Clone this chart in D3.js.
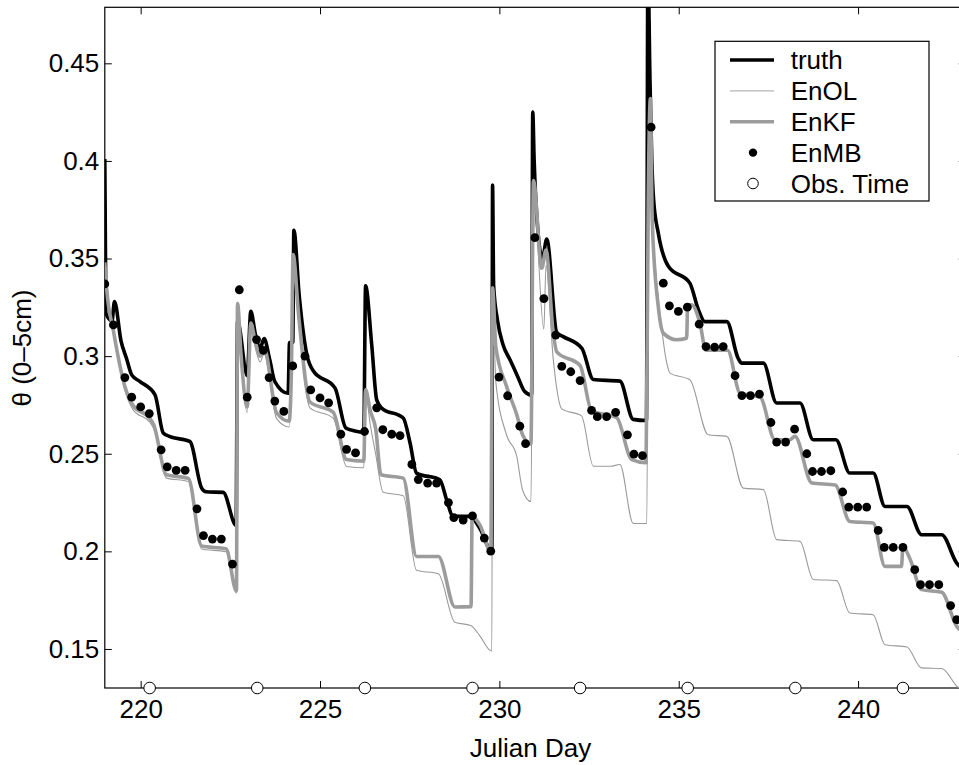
<!DOCTYPE html>
<html lang="en">
<head>
  <meta charset="UTF-8">
  <script type="text/javascript" src="https://cdn.jsdelivr.net/npm/d3@7/dist/d3.min.js"></script>
  <style>
    body { margin: 0; background: #fff; }
    svg { display: block; font-family: "Liberation Sans", Arial, Helvetica, sans-serif; }
    .axis text { font-size: 26px; fill: #000; }
    .axis line { stroke: #000; stroke-width: 1; }
    .axis path { display: none; }
    .lbl { font-size: 26px; fill: #000; }
  </style>
</head>
<body>
<svg></svg>
<script type="text/javascript">
// [Julian day, theta]
var truth = [
  [219.00,0.401],[219.03,0.322],[219.20,0.318],[219.27,0.328],[219.45,0.308],[219.61,0.2985],
  [219.75,0.2904],[219.98,0.287],[220.40,0.2802],[220.63,0.2606],[220.80,0.2589],[221.37,0.2563],
  [221.70,0.2324],[221.82,0.2305],[222.30,0.2302],[222.66,0.2133],[222.70,0.318],[222.97,0.290],
  [223.07,0.323],[223.20,0.311],[223.33,0.304],[223.44,0.309],[223.60,0.298],[223.74,0.287],
  [224.11,0.281],[224.15,0.307],[224.24,0.307],[224.27,0.3645],[224.42,0.331],[224.63,0.301],
  [224.81,0.2925],[225.42,0.2836],[225.72,0.2632],[225.97,0.2617],[226.22,0.261],[226.27,0.336],
  [226.44,0.306],[226.58,0.2776],[226.72,0.2734],[227.32,0.2683],[227.51,0.2555],[227.69,0.2401],
  [228.34,0.2367],[228.53,0.2264],[228.71,0.2179],[229.18,0.2179],[229.46,0.2116],[229.79,0.2000],
  [229.81,0.3876],[229.84,0.336],[229.95,0.318],[230.10,0.306],[230.30,0.298],[230.50,0.290],
  [230.70,0.282],[230.90,0.280],[230.93,0.425],[230.97,0.400],[231.05,0.370],[231.20,0.350],
  [231.32,0.360],[231.60,0.312],[231.78,0.310],[232.30,0.304],[232.62,0.288],[233.36,0.2872],
  [233.73,0.2676],[234.10,0.267],[234.14,0.500],[234.20,0.440],[234.25,0.400],[234.30,0.380],
  [234.43,0.363],[234.71,0.346],[235.31,0.3374],[235.55,0.3237],[235.73,0.3177],[236.34,0.3177],
  [236.66,0.2987],[236.76,0.2964],[237.36,0.2964],[237.73,0.276],[238.38,0.276],[238.75,0.2572],
  [239.38,0.2572],[239.77,0.2401],[240.42,0.2401],[240.75,0.223],[241.36,0.223],[241.77,0.2085],
  [242.33,0.2085],[242.75,0.194],[243.00,0.190]
];

var enol = [
  [219.00,0.346],[219.05,0.333],[219.24,0.311],[219.56,0.2825],[219.79,0.2725],[220.26,0.266],
  [220.36,0.263],[220.72,0.2375],[221.33,0.2358],[221.70,0.2012],[222.38,0.1998],[222.67,0.1785],
  [222.70,0.325],[222.80,0.297],[222.97,0.271],[223.07,0.314],[223.20,0.304],[223.33,0.297],
  [223.44,0.301],[223.79,0.268],[224.14,0.2637],[224.20,0.287],[224.25,0.350],[224.40,0.319],
  [224.72,0.2735],[225.37,0.2682],[225.74,0.2435],[226.22,0.2428],[226.27,0.281],[226.40,0.265],
  [226.55,0.250],[226.76,0.2303],[227.32,0.2285],[227.69,0.1903],[228.30,0.1885],[228.76,0.1637],
  [229.20,0.162],[229.46,0.1566],[229.73,0.1495],[229.79,0.149],[229.81,0.335],[229.90,0.287],
  [230.20,0.2596],[230.48,0.249],[230.65,0.2312],[230.88,0.2255],[230.95,0.385],[231.24,0.3138],
  [231.30,0.3467],[231.50,0.2987],[231.74,0.273],[232.29,0.2694],[232.62,0.2436],[233.10,0.2436],
  [233.36,0.2445],[233.73,0.2143],[234.11,0.2143],[234.16,0.400],[234.25,0.370],[234.35,0.345],
  [234.50,0.318],[234.65,0.298],[234.76,0.2913],[235.31,0.2879],[235.82,0.2597],[236.34,0.2589],
  [236.80,0.2324],[237.36,0.2316],[237.73,0.206],[238.38,0.2051],[238.75,0.1856],[239.40,0.185],
  [239.77,0.1684],[240.42,0.1675],[240.75,0.1522],[241.36,0.151],[241.77,0.1403],[242.33,0.140],
  [242.75,0.131],[243.00,0.127]
];

var enkf = [
  [219.00,0.348],[219.05,0.335],[219.24,0.313],[219.56,0.2845],[219.79,0.2747],[220.26,0.268],
  [220.36,0.265],[220.72,0.2392],[221.33,0.2374],[221.70,0.2027],[222.38,0.2013],[222.67,0.1797],
  [222.70,0.327],[222.80,0.300],[222.97,0.274],[223.07,0.317],[223.20,0.307],[223.33,0.300],
  [223.44,0.304],[223.79,0.271],[224.14,0.2667],[224.20,0.290],[224.25,0.352],[224.40,0.3218],
  [224.72,0.2765],[225.37,0.2712],[225.74,0.247],[226.22,0.2462],[226.27,0.2827],[226.40,0.272],
  [226.55,0.263],[226.70,0.2392],[227.32,0.2375],[227.69,0.1974],[228.30,0.1974],[228.76,0.1715],
  [229.21,0.1717],[229.24,0.2179],[229.46,0.2134],[229.76,0.2001],[229.81,0.335],[229.90,0.305],
  [230.20,0.2845],[230.48,0.2703],[230.65,0.2596],[230.88,0.255],[230.95,0.390],[231.18,0.345],
  [231.30,0.3544],[231.50,0.312],[231.60,0.3022],[232.25,0.2952],[232.57,0.272],[233.27,0.2685],
  [233.69,0.247],[234.09,0.2454],[234.15,0.380],[234.21,0.432],[234.26,0.370],[234.43,0.3253],
  [234.57,0.3118],[234.94,0.3084],[235.22,0.3092],[235.25,0.3263],[235.36,0.3263],[235.59,0.3169],
  [235.76,0.303],[236.36,0.303],[236.71,0.281],[237.27,0.279],[237.68,0.2572],[238.10,0.2572],
  [238.24,0.2589],[238.71,0.235],[239.36,0.234],[239.77,0.2153],[240.42,0.2145],[240.75,0.1923],
  [241.21,0.1923],[241.25,0.2025],[241.45,0.196],[241.77,0.1804],[242.33,0.179],[242.75,0.1616],
  [243.00,0.158]
];

var enmb = [
  [219.00,0.337],[219.24,0.316],[219.56,0.289],[219.75,0.279],[220.00,0.274],[220.24,0.2706],
  [220.57,0.252],[220.74,0.2433],[220.99,0.2415],[221.24,0.2415],[221.57,0.2218],[221.75,0.2081],
  [222.00,0.2063],[222.25,0.2063],[222.56,0.1935],[222.75,0.334],[222.97,0.279],[223.23,0.3085],
  [223.42,0.303],[223.58,0.289],[223.74,0.277],[223.99,0.2717],[224.24,0.2950],[224.58,0.300],
  [224.74,0.2827],[225.00,0.2786],[225.24,0.2761],[225.58,0.260],[225.74,0.2522],[225.99,0.2504],
  [226.24,0.2614],[226.58,0.2735],[226.75,0.2623],[227.00,0.2600],[227.23,0.2593],[227.56,0.2445],
  [227.74,0.2368],[228.00,0.2350],[228.25,0.2350],[228.58,0.2250],[228.73,0.2173],[228.99,0.2160],
  [229.25,0.2182],[229.58,0.2068],[229.76,0.2001],[229.99,0.2893],[230.23,0.2797],[230.57,0.2641],
  [230.73,0.2552],[230.99,0.3607],[231.24,0.3295],[231.57,0.3108],[231.74,0.2948],[231.99,0.292],
  [232.25,0.2875],[232.57,0.2722],[232.73,0.269],[232.99,0.269],[233.24,0.2712],[233.57,0.2597],
  [233.75,0.2498],[233.99,0.249],[234.23,0.4173],[234.57,0.3374],[234.74,0.3258],[234.99,0.3229],
  [235.24,0.3251],[235.57,0.3164],[235.76,0.3049],[236.00,0.3046],[236.24,0.3049],[236.57,0.290],
  [236.76,0.2798],[237.00,0.2798],[237.25,0.2805],[237.57,0.266],[237.73,0.256],[237.98,0.256],
  [238.23,0.2626],[238.57,0.250],[238.73,0.2409],[238.98,0.2409],[239.24,0.2413],[239.57,0.2304],
  [239.74,0.2227],[239.99,0.2227],[240.24,0.2227],[240.56,0.2107],[240.73,0.202],[240.98,0.202],
  [241.25,0.202],[241.58,0.1906],[241.74,0.1829],[241.99,0.1829],[242.25,0.1829],[242.58,0.1722],
  [242.75,0.165]
];

var obsTimes = [220.25, 223.25, 226.25, 229.25, 232.25, 235.25, 238.25, 241.25];

var xTicks = [220, 225, 230, 235, 240];
var yTicks = [0.15, 0.2, 0.25, 0.3, 0.35, 0.4, 0.45];
var legendNames = ["truth", "EnOL", "EnKF", "EnMB", "Obs. Time"];

function draw(){
    var W = 959, H = 765;
    var svg = d3.select("svg").attr("width", W).attr("height", H);

    var xScale = d3.scaleLinear().domain([219, 243]).range([104.8, 965.7]);
    var yScale = d3.scaleLinear().domain([0.13, 0.4787]).range([688, 7.3]);

    var x0 = xScale.range()[0], x1 = xScale.range()[1];
    var yb = yScale.range()[0], yt = yScale.range()[1];

    svg.append("defs").append("clipPath").attr("id", "plotclip")
      .append("rect").attr("x", x0).attr("y", yt).attr("width", x1 - x0).attr("height", yb - yt);

    // axes, ticks inward on all four sides
    svg.append("g").attr("class", "axis")
      .attr("transform", "translate(0," + yb + ")")
      .call(d3.axisBottom(xScale).tickValues(xTicks).tickSize(-7).tickPadding(12).tickFormat(d3.format("d")));
    svg.append("g").attr("class", "axis")
      .attr("transform", "translate(0," + yt + ")")
      .call(d3.axisTop(xScale).tickValues(xTicks).tickSize(-7).tickFormat(""));
    svg.append("g").attr("class", "axis")
      .attr("transform", "translate(" + x0 + ",0)")
      .call(d3.axisLeft(yScale).tickValues(yTicks).tickSize(-7).tickPadding(5.5)
        .tickFormat(function(d){ return String(+d.toFixed(2)); }));
    svg.append("g").attr("class", "axis")
      .attr("transform", "translate(" + x1 + ",0)")
      .call(d3.axisRight(yScale).tickValues(yTicks).tickSize(-7).tickFormat(""));

    svg.append("rect").attr("x", x0).attr("y", yt).attr("width", x1 - x0).attr("height", yb - yt)
      .attr("fill", "none").attr("stroke", "#000").attr("stroke-width", 1.2);

    var line = d3.line()
      .x(function(d){ return xScale(d[0]); })
      .y(function(d){ return yScale(d[1]); })
      .curve(d3.curveMonotoneX);

    var plot = svg.append("g").attr("clip-path", "url(#plotclip)");

    plot.append("path").datum(truth).attr("d", line)
      .attr("fill", "none").attr("stroke", "#000").attr("stroke-width", 3.6).attr("stroke-linejoin", "round");
    plot.append("path").datum(enol).attr("d", line)
      .attr("fill", "none").attr("stroke", "#9a9a9a").attr("stroke-width", 1.1);
    plot.append("path").datum(enkf).attr("d", line)
      .attr("fill", "none").attr("stroke", "#9c9c9c").attr("stroke-width", 3.6).attr("stroke-linejoin", "round");

    plot.selectAll("circle.mb").data(enmb).enter().append("circle")
      .attr("class", "mb")
      .attr("cx", function(d){ return xScale(d[0]); })
      .attr("cy", function(d){ return yScale(d[1]); })
      .attr("r", 4.4).attr("fill", "#000");

    svg.selectAll("circle.obs").data(obsTimes).enter().append("circle")
      .attr("class", "obs")
      .attr("cx", function(d){ return xScale(d); })
      .attr("cy", yb)
      .attr("r", 5.8).attr("fill", "#fff").attr("stroke", "#000").attr("stroke-width", 1);

    // axis labels
    svg.append("text").attr("class", "lbl")
      .attr("x", 530.5).attr("y", 757).attr("text-anchor", "middle").text("Julian Day");
    svg.append("text").attr("class", "lbl")
      .attr("transform", "translate(31,348) rotate(-90)")
      .attr("text-anchor", "middle").text("\u03b8 (0\u20135cm)");

    // legend
    var lg = svg.append("g");
    lg.append("rect").attr("x", 715).attr("y", 41.3).attr("width", 214).attr("height", 159.7)
      .attr("fill", "#fff").attr("stroke", "#000").attr("stroke-width", 1.2);
    var rowY = d3.scalePoint().domain(legendNames).range([60, 183.5]);
    var row = lg.selectAll("g.row").data(legendNames).enter().append("g")
      .attr("class", "row")
      .attr("transform", function(d){ return "translate(0," + rowY(d) + ")"; });
    row.append("text").attr("class", "lbl").attr("x", 790.7).attr("dy", "0.35em")
      .text(function(d){ return d; });
    row.filter(function(d, i){ return i === 0; }).append("line")
      .attr("x1", 730).attr("x2", 774).attr("stroke", "#000").attr("stroke-width", 3.6);
    row.filter(function(d, i){ return i === 1; }).append("line")
      .attr("x1", 730).attr("x2", 774).attr("stroke", "#b5b5b5").attr("stroke-width", 1.1);
    row.filter(function(d, i){ return i === 2; }).append("line")
      .attr("x1", 730).attr("x2", 774).attr("stroke", "#9c9c9c").attr("stroke-width", 3.6);
    row.filter(function(d, i){ return i === 3; }).append("circle")
      .attr("cx", 753).attr("r", 4.2).attr("fill", "#000");
    row.filter(function(d, i){ return i === 4; }).append("circle")
      .attr("cx", 753).attr("r", 5.3).attr("fill", "#fff").attr("stroke", "#000").attr("stroke-width", 1);
}

draw();
</script>
</body>
</html>
